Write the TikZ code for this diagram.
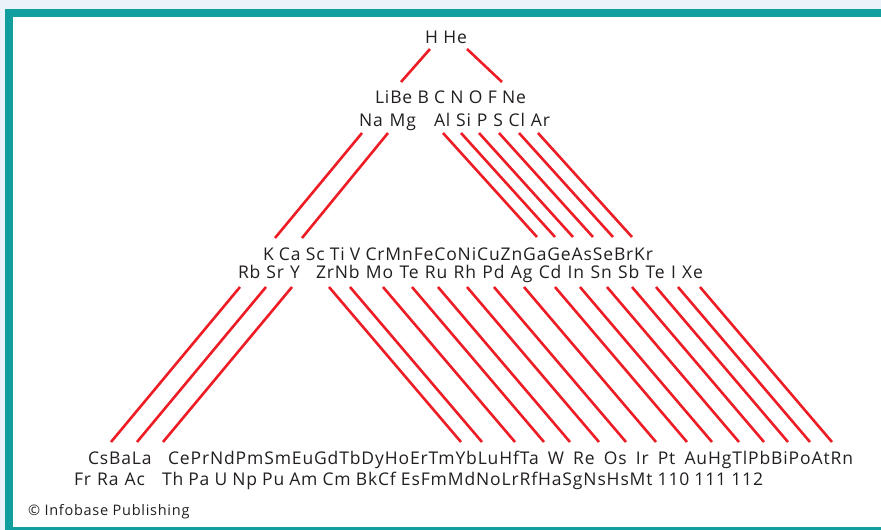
\documentclass[tikz,border=0pt]{standalone}
\usepackage{fontspec}
\setmainfont{Open Sans}[LetterSpace=5]
\definecolor{bgblue}{HTML}{EBF3FA}
\definecolor{frame}{HTML}{109E9E}
\definecolor{redline}{HTML}{EE1C25}
\definecolor{ink}{HTML}{231F20}
\tikzset{
  lbl/.style={inner sep=0pt, outer sep=0pt, anchor=base west, text=ink, font=\fontsize{17.5}{20}\selectfont},
  credit/.style={inner sep=0pt, outer sep=0pt, anchor=base west, text=ink, font=\fontsize{14.5}{17}\selectfont},
  link/.style={draw=redline, line width=2.6pt}
}
\begin{document}
\begin{tikzpicture}[x=1pt,y=-1pt]
\useasboundingbox (0,0) rectangle (881,530);
\fill[bgblue] (0,0) rectangle (881,530);
\fill[frame] (5,9) rectangle (881,530);
\fill[white] (13,17) rectangle (881,527);

% text rows
\node[lbl] (r1) at (425,43) {\makebox[42pt][s]{H He}};
\node[lbl] (r2a) at (375,103) {\makebox[151pt][s]{LiBe B C N O F Ne}};
\node[lbl] (r2bl) at (359,126) {\makebox[57pt][s]{Na Mg}};
\node[lbl] (r2br) at (434,126) {\makebox[116pt][s]{Al Si P S Cl Ar}};
\node[lbl] (r3a) at (263,260) {\makebox[390pt][s]{K Ca Sc Ti V CrMnFeCoNiCuZnGaGeAsSeBrKr}};
\node[lbl] (r3bl) at (238,278) {\makebox[62pt][s]{Rb Sr Y}};
\node[lbl] (r3br) at (316,278) {\makebox[387pt][s]{ZrNb Mo Te Ru Rh Pd Ag Cd In Sn Sb Te I Xe}};
\node[lbl] (r4al) at (88,464) {CsBaLa};
\node[lbl] (r4ar) at (168,464) {\makebox[685pt][s]{CePrNdPmSmEuGdTbDyHoErTmYbLuHfTa W Re Os Ir Pt AuHgTlPbBiPoAtRn}};
\node[lbl] (r4bl) at (74,485) {\makebox[71pt][s]{Fr Ra Ac}};
\node[lbl] (r4br) at (162,485) {\makebox[601pt][s]{Th Pa U Np Pu Am Cm BkCf EsFmMdNoLrRfHaSgNsHsMt 110 111 112}};
\node[credit] (cr) at (28,515) {© Infobase Publishing};

% connectors
\coordinate (hA) at (430,49); \coordinate (hB) at (401,82);
\coordinate (heA) at (467,49); \coordinate (heB) at (502,82);
\draw[link] (hA) -- (hB);
\draw[link] (heA) -- (heB);

\coordinate (naA) at (362,133); \coordinate (naB) at (275,238);
\coordinate (mgA) at (388,133); \coordinate (mgB) at (302,238);
\draw[link] (naA) -- (naB);
\draw[link] (mgA) -- (mgB);

\foreach \t [count=\i] in {443,461,479,499,519,538} {
  \coordinate (pA\i) at (\t,133);
  \coordinate (pB\i) at (\t+94,237);
  \draw[link] (pA\i) -- (pB\i);
}

\foreach \t [count=\i] in {240,266,292} {
  \coordinate (lA\i) at (\t,287);
  \coordinate (lB\i) at (\t-129,442);
  \draw[link] (lA\i) -- (lB\i);
}

\foreach \t [count=\i] in {329,350,383,412,438,467,494,524,555,580,607,632,656,678,700} {
  \coordinate (tA\i) at (\t,287);
  \coordinate (tB\i) at (\t+132,442);
  \draw[link] (tA\i) -- (tB\i);
}
\end{tikzpicture}
\end{document}
